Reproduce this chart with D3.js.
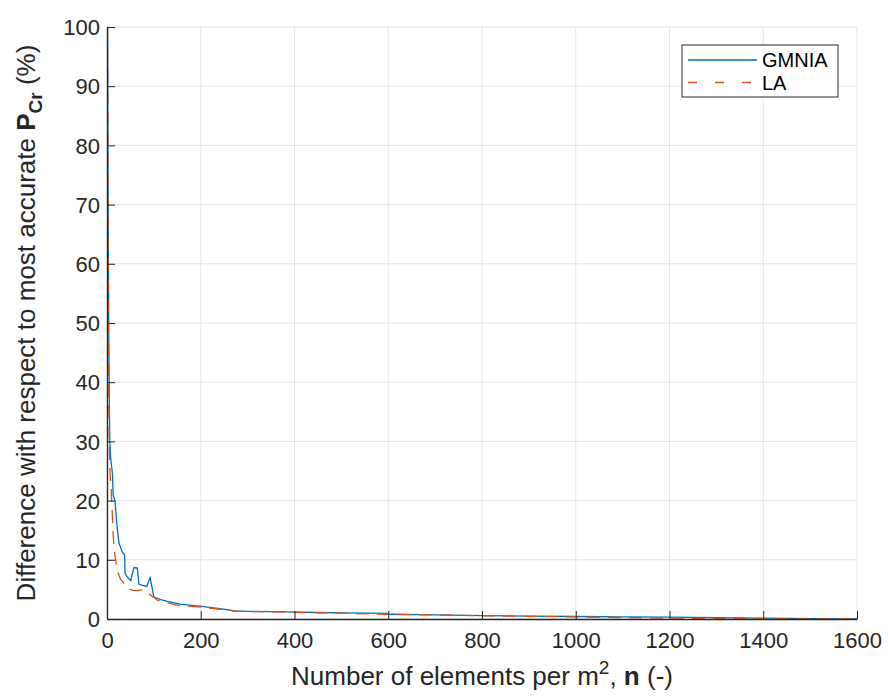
<!DOCTYPE html>
<html>
<head>
<meta charset="utf-8">
<script src="https://cdn.jsdelivr.net/npm/d3@7"></script>
<style>
  body { margin: 0; background: #fff; }
</style>
</head>
<body>
<div id="chart"></div>
<script>
const HEIGHT = 697;
const WIDTH = 888;

const MARGIN = {left: 107, right: 31, top: 27, bottom: 78};

const XAXIS_DOMAIN = [0, 1600];
const YAXIS_DOMAIN = [0, 100];

const XTICKS = [0, 200, 400, 600, 800, 1000, 1200, 1400, 1600];
const YTICKS = [0, 10, 20, 30, 40, 50, 60, 70, 80, 90, 100];

const SERIES_NAMES = ["GMNIA", "LA"];

// GMNIA
const GMNIA_N = [1, 1.5, 2, 3, 4, 5, 6, 8, 11, 12, 13, 17, 21, 25.6, 29, 32.6, 37.7, 38.4, 44, 50.5, 57.6, 64.7, 68, 76, 84.7, 92, 100, 113, 127, 156, 202, 241, 273, 300, 383, 450, 500, 561, 598, 605, 700, 803, 900, 1002, 1100, 1200, 1300, 1400, 1500, 1600];
const GMNIA_V = [100, 95, 77, 60, 45, 36, 30, 27, 25, 24, 21, 20, 16, 12.8, 12.1, 11.3, 10.8, 7.7, 7.0, 6.5, 8.7, 8.6, 5.9, 5.7, 5.5, 7.0, 3.7, 3.3, 3.0, 2.5, 2.15, 1.75, 1.35, 1.3, 1.2, 1.1, 1.05, 1.0, 0.95, 0.8, 0.7, 0.57, 0.5, 0.42, 0.36, 0.3, 0.22, 0.15, 0.08, 0.02];

// LA
const LA_N = [1, 1.5, 2, 3, 4, 5, 6, 8, 9, 11, 13, 15, 17, 20.6, 25, 29, 33, 40, 44.8, 56, 65, 75, 77.5, 90, 99, 107, 125, 152, 202, 241, 277, 300, 383, 450, 500, 561, 600, 700, 803, 900, 1002, 1100, 1200, 1300, 1400, 1500, 1600];
const LA_V = [100, 88, 70, 50, 36, 29, 25.4, 22.5, 21.7, 18.4, 14.5, 12, 10.75, 8.7, 7.5, 6.65, 6.4, 5.5, 5.1, 4.85, 4.8, 4.95, 4.7, 4.2, 3.7, 3.2, 2.8, 2.3, 2.0, 1.65, 1.3, 1.25, 1.15, 1.05, 1.0, 0.85, 0.8, 0.68, 0.55, 0.45, 0.35, 0.25, 0.15, 0.1, 0.05, 0.02, 0];

const COLORS = ["#0072BD", "#D95319"];
const AXIS_COLOR = "#262626";
const GRID_COLOR = "#e6e6e6";
const FONT = "'Liberation Sans', Arial, Helvetica, sans-serif";
const DASH = "13,8";

const svg = d3.select("#chart").append("svg")
    .attr("width", WIDTH)
    .attr("height", HEIGHT)
    .style("font-family", FONT);

svg.append("rect")
   .attr("width", WIDTH)
   .attr("height", HEIGHT)
   .attr("fill", "#fff");

const x = d3.scaleLinear().domain(XAXIS_DOMAIN).range([MARGIN.left, WIDTH - MARGIN.right]);
const y = d3.scaleLinear().domain(YAXIS_DOMAIN).range([HEIGHT - MARGIN.bottom, MARGIN.top]);

// grid
svg.append("g").selectAll("line").data(XTICKS).join("line")
   .attr("x1", d => x(d)).attr("x2", d => x(d))
   .attr("y1", y(0)).attr("y2", y(100))
   .attr("stroke", GRID_COLOR).attr("stroke-width", 1);
svg.append("g").selectAll("line").data(YTICKS).join("line")
   .attr("x1", x(0)).attr("x2", x(1600))
   .attr("y1", d => y(d)).attr("y2", d => y(d))
   .attr("stroke", GRID_COLOR).attr("stroke-width", 1);

// clip
svg.append("clipPath").attr("id", "plotclip")
   .append("rect")
   .attr("x", x(0)).attr("y", y(100) - 2)
   .attr("width", x(1600) - x(0) + 2).attr("height", y(0) - y(100) + 2);

const line = d3.line().x(d => x(d[0])).y(d => y(d[1]));

const gmnia = GMNIA_N.map((n, i) => [n, GMNIA_V[i]]);
const la = LA_N.map((n, i) => [n, LA_V[i]]);

const plot = svg.append("g").attr("clip-path", "url(#plotclip)");
plot.append("path").datum(gmnia)
    .attr("d", line).attr("fill", "none")
    .attr("stroke", COLORS[0]).attr("stroke-width", 1.3);
plot.append("path").datum(la)
    .attr("d", line).attr("fill", "none")
    .attr("stroke", COLORS[1]).attr("stroke-width", 1.3)
    .attr("stroke-dasharray", DASH);

// X AXIS
const xAxis = svg.append("g")
   .attr("transform", "translate(0," + y(0) + ")")
   .call(d3.axisBottom(x).tickValues(XTICKS).tickFormat(d3.format("d"))
         .tickSizeInner(-8).tickSizeOuter(0).tickPadding(13));

// Y AXIS
const yAxis = svg.append("g")
   .attr("transform", "translate(" + x(0) + ",0)")
   .call(d3.axisLeft(y).tickValues(YTICKS).tickFormat(d3.format("d"))
         .tickSizeInner(-8).tickSizeOuter(0).tickPadding(7));

[xAxis, yAxis].forEach(g => {
  g.select(".domain").attr("stroke", AXIS_COLOR).attr("stroke-width", 1.3);
  g.selectAll(".tick line").attr("stroke", AXIS_COLOR).attr("stroke-width", 1);
  g.selectAll(".tick text")
   .attr("fill", AXIS_COLOR)
   .style("font-family", FONT)
   .style("font-size", "22px");
});
yAxis.selectAll(".tick text").attr("dy", "0.35em");

// X label
const xl = svg.append("text")
   .attr("x", (x(0) + x(1600)) / 2)
   .attr("y", 685)
   .attr("text-anchor", "middle")
   .attr("fill", AXIS_COLOR)
   .style("font-size", "26px");
xl.append("tspan").text("Number of elements per m");
xl.append("tspan").attr("dy", -11).style("font-size", "19px").text("2");
xl.append("tspan").attr("dy", 11).text(", ");
xl.append("tspan").style("font-weight", "bold").text("n");
xl.append("tspan").text(" (-)");

// Y label
const yl = svg.append("text")
   .attr("transform", "translate(35," + (y(0) + y(100)) / 2 + ") rotate(-90)")
   .attr("text-anchor", "middle")
   .attr("fill", AXIS_COLOR)
   .style("font-size", "26px");
yl.append("tspan").text("Difference with respect to most accurate ");
yl.append("tspan").style("font-weight", "bold").text("P");
yl.append("tspan").attr("dy", 7).style("font-weight", "bold").style("font-size", "19px").text("Cr");
yl.append("tspan").attr("dy", -7).text("  (%)");

// Legend
const legend = svg.append("g");
legend.append("rect")
   .attr("x", 682).attr("y", 45)
   .attr("width", 156).attr("height", 52)
   .attr("fill", "#fff")
   .attr("stroke", AXIS_COLOR).attr("stroke-width", 1);

SERIES_NAMES.forEach((name, i) => {
  const ly = 60 + i * 22.5;
  legend.append("line")
     .attr("x1", 688).attr("x2", 757)
     .attr("y1", ly).attr("y2", ly)
     .attr("stroke", COLORS[i]).attr("stroke-width", 1.3)
     .attr("stroke-dasharray", i === 1 ? "9,18" : null);
  legend.append("text")
     .attr("x", 762).attr("y", ly + 7)
     .attr("fill", "#000")
     .style("font-size", "20px")
     .text(name);
});
</script>
</body>
</html>
